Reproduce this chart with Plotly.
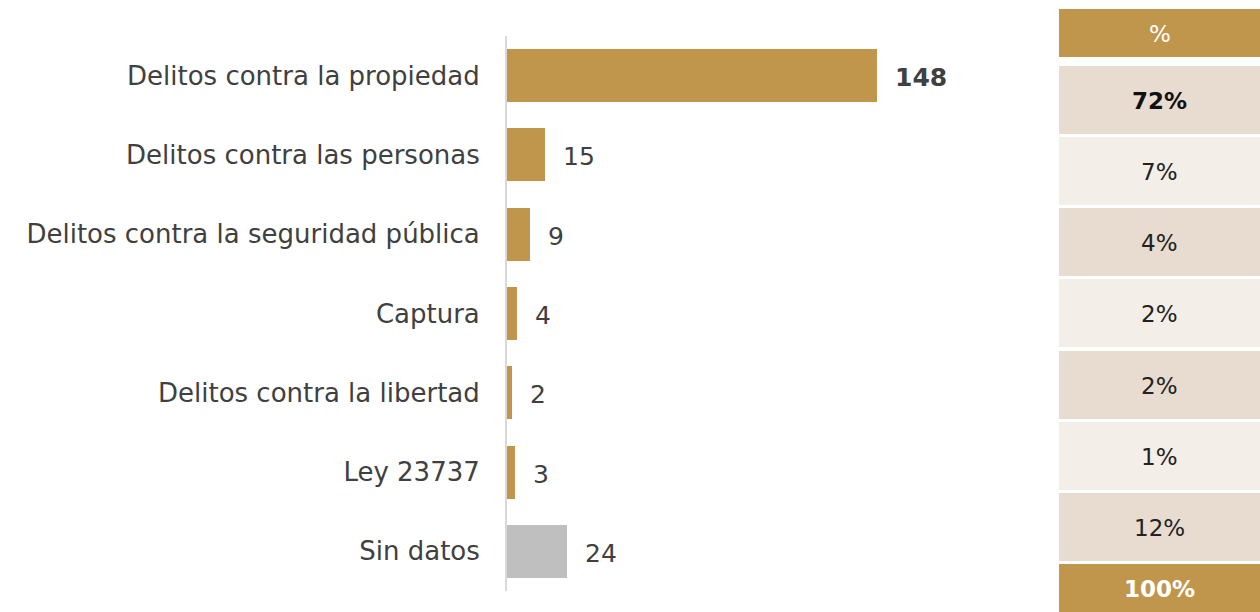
import plotly.graph_objects as go

categories = ["Delitos contra la propiedad", "Delitos contra las personas",
              "Delitos contra la seguridad pública", "Captura",
              "Delitos contra la libertad", "Ley 23737", "Sin datos"]
values = [148, 15, 9, 4, 2, 3, 24]
pct_labels = ["72%", "7%", "4%", "2%", "2%", "1%", "12%"]
header_label = "%"
total_label = "100%"

W, H = 1260, 612
GOLD = "#C0964D"
GRAY = "#BFBFBF"
TXT = "#404040"
FONT = "DejaVu Sans"

bar_colors = [GOLD] * (len(values) - 1) + [GRAY]

fig = go.Figure()
fig.add_trace(go.Bar(
    x=values, y=categories, orientation="h",
    marker=dict(color=bar_colors, line=dict(width=0)),
    width=0.67, hoverinfo="skip", xaxis="x", yaxis="y",
))

annotations = []
for i, (c, v) in enumerate(zip(categories, values)):
    annotations.append(dict(
        x=v, y=c, xref="x", yref="y", xanchor="left", yanchor="middle",
        xshift=16, yshift=-2, showarrow=False,
        text=f"<b>{v}</b>" if i == 0 else str(v),
        font=dict(family=FONT, size=25, color=TXT),
    ))

# table on the right, built on a hidden second axis pair (pixel-like units)
row_labels = [header_label] + pct_labels + [total_label]
n = len(pct_labels)
pitch = (564 - 66) / n
centers = [33] + [66 + i * pitch + 34 for i in range(n)] + [588]
heights = [48] + [68] * n + [48]
light, dark = "#F3EEE8", "#E8DCD0"
fills = [GOLD] + [dark if i % 2 == 0 else light for i in range(n)] + [GOLD]
fig.add_trace(go.Bar(
    x=[1] * len(row_labels), y=centers, width=heights, orientation="h",
    marker=dict(color=fills, line=dict(width=0)), hoverinfo="skip",
    xaxis="x2", yaxis="y2",
))
for i, (lab, yc) in enumerate(zip(row_labels, centers)):
    if i == 0:
        txt, col = lab, "white"
    elif i == len(row_labels) - 1:
        txt, col = f"<b>{lab}</b>", "white"
    elif i == 1:
        txt, col = f"<b>{lab}</b>", "#111111"
    else:
        txt, col = lab, "#222222"
    annotations.append(dict(
        x=0.5, y=yc, xref="x2", yref="y2", showarrow=False,
        xanchor="center", yanchor="middle", yshift=-1,
        text=txt, font=dict(family=FONT, size=23, color=col),
    ))

fig.update_layout(
    width=W, height=H, margin=dict(l=0, r=0, t=0, b=0),
    paper_bgcolor="white", plot_bgcolor="white", showlegend=False,
    bargap=0,
    xaxis=dict(domain=[507 / W, 1007 / W], range=[0, 200], visible=False, fixedrange=True),
    yaxis=dict(domain=[1 - 591 / H, 1 - 36 / H], autorange="reversed",
               showline=True, linecolor="#D9D9D9", linewidth=2,
               ticks="", showgrid=False, zeroline=False,
               tickfont=dict(family=FONT, size=26, color=TXT),
               ticklabelstandoff=20, fixedrange=True),
    xaxis2=dict(domain=[1059 / W, 1], range=[0, 1], visible=False, fixedrange=True),
    yaxis2=dict(domain=[0, 1], range=[H, 0], visible=False, fixedrange=True,
                anchor="x2"),
    annotations=annotations,
)
fig.write_html("out.html", config={"displayModeBar": False},
               post_script="document.body.style.margin='0';document.body.style.overflow='hidden';")
